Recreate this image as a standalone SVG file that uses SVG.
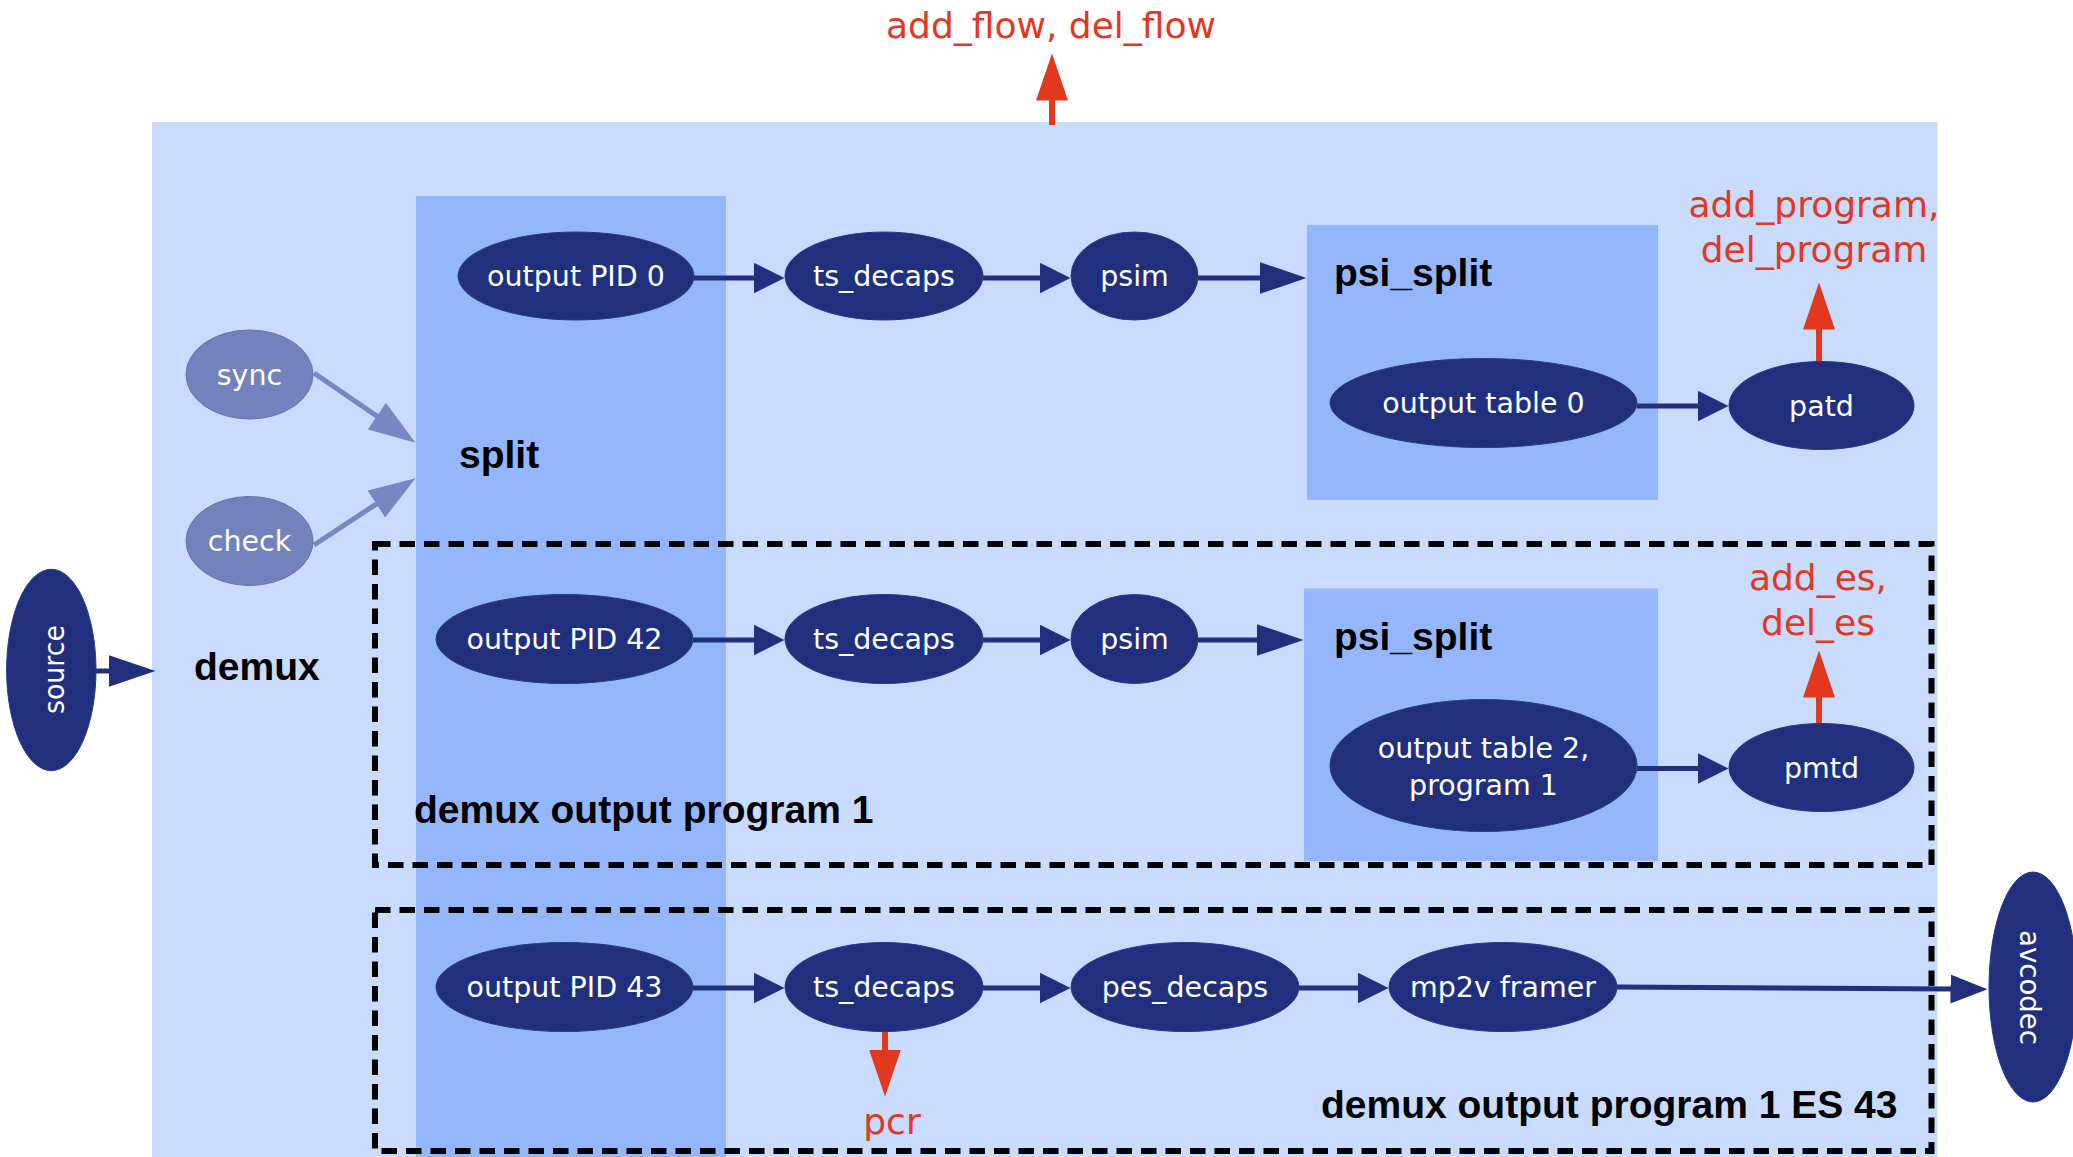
<svg xmlns="http://www.w3.org/2000/svg" width="2073" height="1157" viewBox="0 0 2073 1157">
  <style>
    .area { fill: #c9dbfe; }
    .block { fill: #93b6fc; }
    .group { fill: none; stroke: #000000; stroke-width: 6; stroke-dasharray: 15.5 9; }
    .node { fill: #20307f; stroke: #2a3a8a; stroke-width: 1; }
    .aux { fill: #7381bd; stroke: #6373b4; stroke-width: 1; }
    .lbl { font-family: "DejaVu Sans", Verdana, sans-serif; font-size: 28.5px; fill: #ffffff; text-anchor: middle; }
    .title { font-family: "Liberation Sans", Arial, sans-serif; font-weight: bold; font-size: 39px; fill: #000000; }
    .evt { font-family: "DejaVu Sans", Verdana, sans-serif; font-size: 36px; fill: #e1381e; text-anchor: middle; }
    .flow { fill: none; stroke: #20307f; stroke-width: 5; }
    .ctl { fill: none; stroke: #7787c3; stroke-width: 5; }
    .sig { fill: none; stroke: #e1381e; stroke-width: 6; }
  </style>
  <defs>
    <marker id="head" markerUnits="userSpaceOnUse" markerWidth="32" markerHeight="32" refX="0.5" refY="15.5" orient="auto">
      <path d="M0,0 L31,15.5 L0,31 z" fill="#20307f"/>
    </marker>
    <marker id="head-long" markerUnits="userSpaceOnUse" markerWidth="48" markerHeight="33" refX="0.5" refY="16" orient="auto">
      <path d="M0,0 L47,16 L0,32 z" fill="#20307f"/>
    </marker>
    <marker id="head-out" markerUnits="userSpaceOnUse" markerWidth="38" markerHeight="30" refX="0.5" refY="14.5" orient="auto">
      <path d="M0,0 L37,14.5 L0,29 z" fill="#20307f"/>
    </marker>
    <marker id="head-ctl" markerUnits="userSpaceOnUse" markerWidth="48" markerHeight="33" refX="0.5" refY="16" orient="auto">
      <path d="M0,0 L47,16 L0,32 z" fill="#7787c3"/>
    </marker>
    <marker id="head-sig" markerUnits="userSpaceOnUse" markerWidth="48" markerHeight="33" refX="0.5" refY="16" orient="auto">
      <path d="M0,0 L47,16 L0,32 z" fill="#e1381e"/>
    </marker>
  </defs>

  <rect width="2073" height="1157" fill="#ffffff"/>

  <!-- demux module and its sub-blocks -->
  <g id="demux">
    <rect class="area" x="152" y="122" width="1785.5" height="1040"/>
    <text class="title" x="194" y="680">demux</text>
  </g>
  <g id="split">
    <rect class="block" x="416" y="196" width="310" height="970"/>
    <text class="title" x="459" y="468">split</text>
  </g>
  <g id="psi_split_0">
    <rect class="block" x="1307" y="225" width="351" height="275"/>
    <text class="title" x="1334" y="286">psi_split</text>
  </g>
  <g id="psi_split_1">
    <rect class="block" x="1304" y="588.5" width="354" height="272.5"/>
    <text class="title" x="1334" y="650">psi_split</text>
  </g>

  <!-- program / elementary stream groupings -->
  <g id="program_1">
    <rect class="group" x="375" y="544" width="1556.5" height="321"/>
    <text class="title" x="414" y="823">demux output program 1</text>
  </g>
  <g id="program_1_es_43">
    <rect class="group" x="375" y="910" width="1556.5" height="241"/>
    <text class="title" x="1321" y="1118">demux output program 1 ES 43</text>
  </g>

  <!-- connectors -->
  <g id="connectors">
    <line class="flow" x1="95" y1="671" x2="109" y2="671" stroke-width="8" marker-end="url(#head-long)"/>
    <line class="ctl" x1="314" y1="373" x2="377.2" y2="416.4" marker-end="url(#head-ctl)"/>
    <line class="ctl" x1="314" y1="545" x2="376.7" y2="503.8" marker-end="url(#head-ctl)"/>

    <line class="flow" x1="693" y1="278" x2="754" y2="278" marker-end="url(#head)"/>
    <line class="flow" x1="983" y1="278" x2="1040" y2="278" marker-end="url(#head)"/>
    <line class="flow" x1="1198" y1="278" x2="1260" y2="278" marker-end="url(#head-long)"/>
    <line class="flow" x1="1637" y1="406" x2="1698" y2="406" marker-end="url(#head)"/>

    <line class="flow" x1="693" y1="640" x2="754" y2="640" marker-end="url(#head)"/>
    <line class="flow" x1="983" y1="640" x2="1040" y2="640" marker-end="url(#head)"/>
    <line class="flow" x1="1198" y1="640" x2="1257" y2="640" marker-end="url(#head-long)"/>
    <line class="flow" x1="1637" y1="768.5" x2="1698" y2="768.5" marker-end="url(#head)"/>

    <line class="flow" x1="693" y1="988" x2="754" y2="988" marker-end="url(#head)"/>
    <line class="flow" x1="983" y1="988" x2="1040" y2="988" marker-end="url(#head)"/>
    <line class="flow" x1="1299" y1="988" x2="1358" y2="988" marker-end="url(#head)"/>
    <line class="flow" x1="1617" y1="987" x2="1951" y2="989" marker-end="url(#head-out)"/>

    <line class="sig" x1="1052" y1="125" x2="1052" y2="100" marker-end="url(#head-sig)"/>
    <line class="sig" x1="1819" y1="361" x2="1819" y2="329" marker-end="url(#head-sig)"/>
    <line class="sig" x1="1819" y1="724" x2="1819" y2="697" marker-end="url(#head-sig)"/>
    <line class="sig" x1="885" y1="1030" x2="885" y2="1050" marker-end="url(#head-sig)"/>
  </g>

  <!-- event labels -->
  <g id="events">
    <text class="evt" x="1051" y="38" font-size="39">add_flow, del_flow</text>
    <text class="evt" x="1814" y="217">add_program,</text>
    <text class="evt" x="1814" y="262">del_program</text>
    <text class="evt" x="1818" y="590">add_es,</text>
    <text class="evt" x="1818" y="635">del_es</text>
    <text class="evt" x="892" y="1134">pcr</text>
  </g>

  <!-- nodes -->
  <g id="source">
    <ellipse class="node" cx="51.3" cy="670" rx="44.7" ry="100.7"/>
    <text class="lbl" transform="translate(64,669.5) rotate(-90)" font-size="30" textLength="89" lengthAdjust="spacingAndGlyphs">source</text>
  </g>
  <g id="avcodec">
    <ellipse class="node" cx="2033" cy="987" rx="44" ry="115"/>
    <text class="lbl" transform="translate(2020,987.5) rotate(90)" font-size="30" textLength="115" lengthAdjust="spacingAndGlyphs">avcodec</text>
  </g>
  <g id="sync">
    <ellipse class="aux" cx="249.5" cy="374.5" rx="63.5" ry="44.5"/>
    <text class="lbl" x="249.5" y="384.5">sync</text>
  </g>
  <g id="check">
    <ellipse class="aux" cx="249.5" cy="541" rx="63.5" ry="44.5"/>
    <text class="lbl" x="249.5" y="551">check</text>
  </g>

  <g id="output_pid_0">
    <ellipse class="node" cx="576" cy="276" rx="118" ry="44"/>
    <text class="lbl" x="576" y="286">output PID 0</text>
  </g>
  <g id="ts_decaps_0">
    <ellipse class="node" cx="884" cy="276" rx="99" ry="44"/>
    <text class="lbl" x="884" y="286">ts_decaps</text>
  </g>
  <g id="psim_0">
    <ellipse class="node" cx="1134.5" cy="276" rx="63.5" ry="44"/>
    <text class="lbl" x="1134.5" y="286">psim</text>
  </g>
  <g id="output_table_0">
    <ellipse class="node" cx="1483.5" cy="403" rx="153.5" ry="44.5"/>
    <text class="lbl" x="1483.5" y="413">output table 0</text>
  </g>
  <g id="patd">
    <ellipse class="node" cx="1821.5" cy="405.5" rx="92.5" ry="44"/>
    <text class="lbl" x="1821.5" y="415.5">patd</text>
  </g>

  <g id="output_pid_42">
    <ellipse class="node" cx="564.5" cy="639" rx="128.5" ry="44.5"/>
    <text class="lbl" x="564.5" y="649">output PID 42</text>
  </g>
  <g id="ts_decaps_42">
    <ellipse class="node" cx="884" cy="639" rx="99" ry="44.5"/>
    <text class="lbl" x="884" y="649">ts_decaps</text>
  </g>
  <g id="psim_42">
    <ellipse class="node" cx="1134.5" cy="639" rx="63.5" ry="44.5"/>
    <text class="lbl" x="1134.5" y="649">psim</text>
  </g>
  <g id="output_table_2">
    <ellipse class="node" cx="1483.5" cy="765.5" rx="153.5" ry="66"/>
    <text class="lbl" x="1483.5" y="758">output table 2,</text>
    <text class="lbl" x="1483.5" y="795">program 1</text>
  </g>
  <g id="pmtd">
    <ellipse class="node" cx="1821.5" cy="767.5" rx="92.5" ry="44"/>
    <text class="lbl" x="1821.5" y="777.5">pmtd</text>
  </g>

  <g id="output_pid_43">
    <ellipse class="node" cx="564.5" cy="987" rx="128.5" ry="44.5"/>
    <text class="lbl" x="564.5" y="997">output PID 43</text>
  </g>
  <g id="ts_decaps_43">
    <ellipse class="node" cx="884" cy="987" rx="99" ry="44.5"/>
    <text class="lbl" x="884" y="997">ts_decaps</text>
  </g>
  <g id="pes_decaps">
    <ellipse class="node" cx="1185" cy="987" rx="114" ry="44.5"/>
    <text class="lbl" x="1185" y="997">pes_decaps</text>
  </g>
  <g id="mp2v_framer">
    <ellipse class="node" cx="1503" cy="987" rx="114" ry="44.5"/>
    <text class="lbl" x="1503" y="997">mp2v framer</text>
  </g>
</svg>
